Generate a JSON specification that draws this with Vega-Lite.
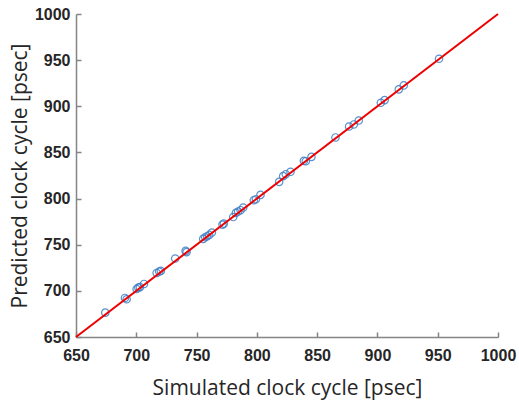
{
  "$schema": "https://vega.github.io/schema/vega-lite/v6.json",
  "width": 422,
  "height": 323,
  "autosize": {"type": "none"},
  "padding": {"left": 76, "top": 14, "right": 21, "bottom": 63},
  "background": "white",
  "config": {
    "view": {"stroke": null},
    "axis": {
      "grid": false,
      "domainColor": "#858585",
      "domainWidth": 1.5,
      "tickColor": "#858585",
      "tickWidth": 1.5,
      "tickSize": -5,
      "labelFont": "Liberation Sans",
      "labelFontWeight": "bold",
      "labelFontSize": 16,
      "labelColor": "#262626",
      "labelFlush": false,
      "labelOverlap": false,
      "labelBound": false,
      "format": "d",
      "titleFont": "Open Sans",
      "titleFontWeight": "normal",
      "titleFontSize": 21,
      "titleColor": "#262626"
    }
  },
  "layer": [
    {
      "data": {"values": [
        {"sim": 674.3, "pred": 676.4},
        {"sim": 690.6, "pred": 692.3},
        {"sim": 692.0, "pred": 690.9},
        {"sim": 700.3, "pred": 702.0},
        {"sim": 701.7, "pred": 703.5},
        {"sim": 703.0, "pred": 704.0},
        {"sim": 706.4, "pred": 707.5},
        {"sim": 716.9, "pred": 719.4},
        {"sim": 719.0, "pred": 720.9},
        {"sim": 720.4, "pred": 721.6},
        {"sim": 732.3, "pred": 735.0},
        {"sim": 740.9, "pred": 743.3},
        {"sim": 741.7, "pred": 742.0},
        {"sim": 755.5, "pred": 756.3},
        {"sim": 757.2, "pred": 758.1},
        {"sim": 758.8, "pred": 759.2},
        {"sim": 760.5, "pred": 760.6},
        {"sim": 762.7, "pred": 763.2},
        {"sim": 771.5, "pred": 771.8},
        {"sim": 772.6, "pred": 772.9},
        {"sim": 780.4, "pred": 780.0},
        {"sim": 782.6, "pred": 784.5},
        {"sim": 784.5, "pred": 786.0},
        {"sim": 786.5, "pred": 787.4},
        {"sim": 788.7, "pred": 790.3},
        {"sim": 797.5, "pred": 798.2},
        {"sim": 799.2, "pred": 799.3},
        {"sim": 803.0, "pred": 804.0},
        {"sim": 818.5, "pred": 818.1},
        {"sim": 821.8, "pred": 824.3},
        {"sim": 824.0, "pred": 826.4},
        {"sim": 827.9, "pred": 829.0},
        {"sim": 839.0, "pred": 840.9},
        {"sim": 840.6, "pred": 840.5},
        {"sim": 845.3, "pred": 845.2},
        {"sim": 865.2, "pred": 866.2},
        {"sim": 876.5, "pred": 878.1},
        {"sim": 880.4, "pred": 880.3},
        {"sim": 884.5, "pred": 884.6},
        {"sim": 902.8, "pred": 903.8},
        {"sim": 906.0, "pred": 906.7},
        {"sim": 917.7, "pred": 918.3},
        {"sim": 921.8, "pred": 922.6},
        {"sim": 951.1, "pred": 951.5}
      ]},
      "mark": {"type": "point", "shape": "circle", "filled": false, "stroke": "#3f7fc4", "strokeWidth": 1.2, "size": 55, "opacity": 0.85},
      "encoding": {
        "x": {"field": "sim", "type": "quantitative", "scale": {"domain": [650, 1000], "nice": false, "zero": false},
              "axis": {"values": [650, 700, 750, 800, 850, 900, 950, 1000], "title": "Simulated clock cycle [psec]", "labelPadding": 15, "titlePadding": 14}},
        "y": {"field": "pred", "type": "quantitative", "scale": {"domain": [650, 1000], "nice": false, "zero": false},
              "axis": {"values": [650, 700, 750, 800, 850, 900, 950, 1000], "title": "Predicted clock cycle [psec]", "labelPadding": 11, "titlePadding": 4}}
      }
    },
    {
      "data": {"values": [{"sim": 650, "pred": 650}, {"sim": 1000, "pred": 1000}]},
      "mark": {"type": "line", "color": "#ee0000", "strokeWidth": 2},
      "encoding": {
        "x": {"field": "sim", "type": "quantitative"},
        "y": {"field": "pred", "type": "quantitative"}
      }
    }
  ]
}
